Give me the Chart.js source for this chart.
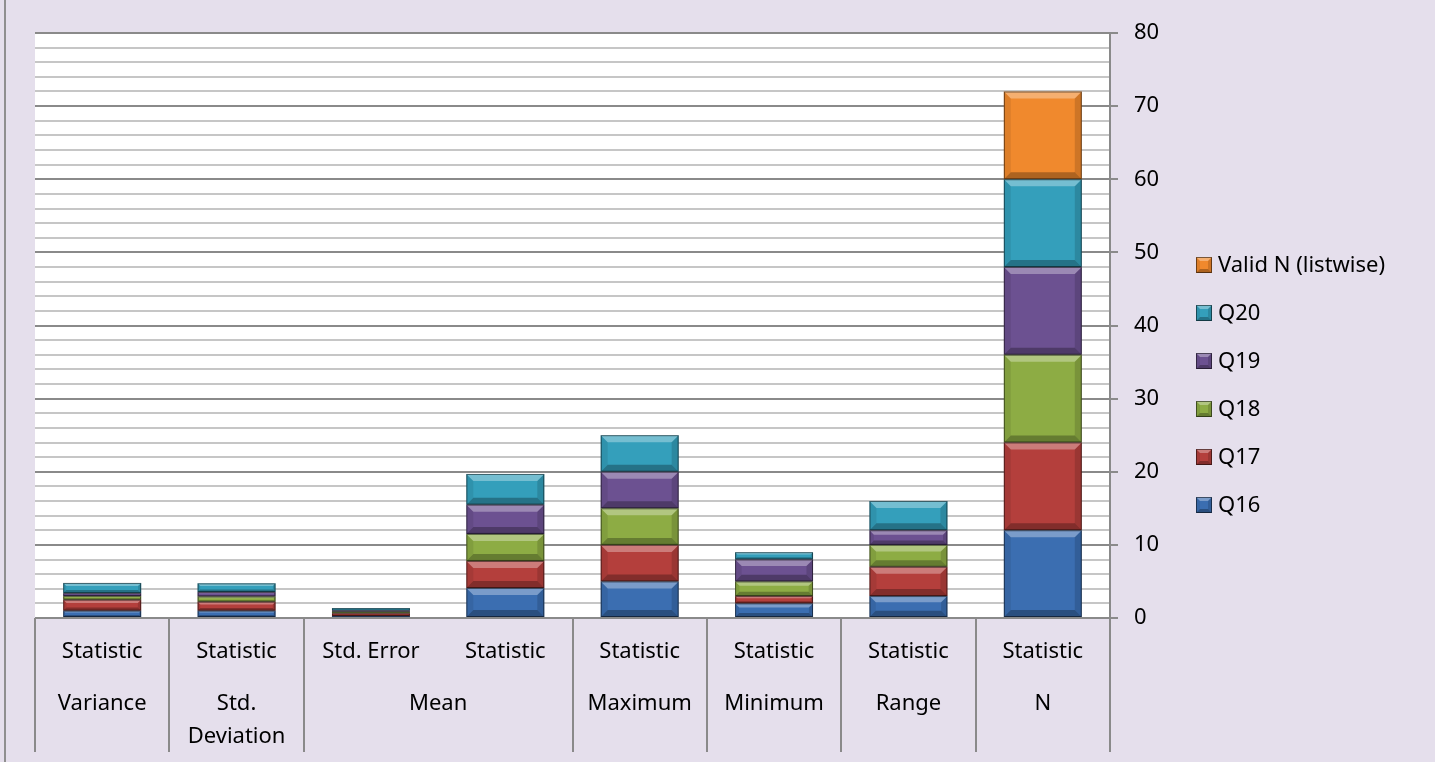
<!DOCTYPE html>
<html>
<head>
<meta charset="utf-8">
<script src="https://cdn.jsdelivr.net/npm/chart.js@4/dist/chart.umd.min.js"></script>
<style>
  html, body { margin: 0; padding: 0; background: #e5dfec; }
  #wrap { width: 1435px; height: 762px; }
</style>
</head>
<body>
<div id="wrap"><canvas id="descChart" width="1435" height="762"></canvas></div>
<script>
'use strict';

// column labels: statistic name (row 1) and measure group (row 2)
var statLabels  = ['Statistic', 'Statistic', 'Std. Error', 'Statistic', 'Statistic', 'Statistic', 'Statistic', 'Statistic'];
var groupLabels = ['Variance', 'Std. Deviation', 'Mean', 'Mean', 'Maximum', 'Minimum', 'Range', 'N'];

var q16    = [1.0, 1.0, 0.29, 4.1, 5, 2, 3, 12];
var q17    = [1.5, 1.22, 0.35, 3.7, 5, 1, 4, 12];
var q18    = [0.5, 0.71, 0.2, 3.7, 5, 2, 3, 12];
var q19    = [0.4, 0.63, 0.18, 4.0, 5, 3, 2, 12];
var q20    = [1.4, 1.18, 0.34, 4.2, 5, 1, 4, 12];
var validN = [null, null, null, null, null, null, null, 12];

var seriesNames  = ['Q16', 'Q17', 'Q18', 'Q19', 'Q20', 'Valid N (listwise)'];
var seriesColors = ['#3b6eb1', '#b43f3c', '#8dac44', '#6c5191', '#349fbb', '#f0892d'];

var FONT = '"Noto Sans", "Open Sans", sans-serif';
var FONT_SIZE = 22;

// bevelled face on a rectangle, like the office "3D" bar style
function bevel(ctx, left, top, right, bottom, maxB) {
    var h = bottom - top, w = right - left;
    if (h <= 0 || w <= 0) return;
    var b = Math.min(maxB, h * 0.3, w * 0.3);
    ctx.save();
    ctx.fillStyle = 'rgba(255,255,255,0.32)';
    ctx.beginPath();
    ctx.moveTo(left, top); ctx.lineTo(right, top);
    ctx.lineTo(right - b, top + b); ctx.lineTo(left + b, top + b);
    ctx.closePath(); ctx.fill();
    ctx.fillStyle = 'rgba(0,0,0,0.28)';
    ctx.beginPath();
    ctx.moveTo(left, bottom); ctx.lineTo(right, bottom);
    ctx.lineTo(right - b, bottom - b); ctx.lineTo(left + b, bottom - b);
    ctx.closePath(); ctx.fill();
    ctx.fillStyle = 'rgba(0,0,0,0.08)';
    ctx.beginPath();
    ctx.moveTo(left, top); ctx.lineTo(left + b, top + b);
    ctx.lineTo(left + b, bottom - b); ctx.lineTo(left, bottom);
    ctx.closePath(); ctx.fill();
    ctx.fillStyle = 'rgba(0,0,0,0.14)';
    ctx.beginPath();
    ctx.moveTo(right, top); ctx.lineTo(right - b, top + b);
    ctx.lineTo(right - b, bottom - b); ctx.lineTo(right, bottom);
    ctx.closePath(); ctx.fill();
    ctx.strokeStyle = 'rgba(0,0,0,0.5)';
    ctx.lineWidth = 1;
    ctx.strokeRect(left + 0.5, top + 0.5, w - 1, h - 1);
    ctx.restore();
}

var backdrop = {
    id: 'backdrop',
    beforeDraw: function (chart) {
        var ctx = chart.ctx, a = chart.chartArea;
        ctx.save();
        ctx.fillStyle = '#e5dfec';
        ctx.fillRect(0, 0, chart.width, chart.height);
        ctx.fillStyle = '#8f8f8f';
        ctx.fillRect(4, 0, 2, chart.height);
        ctx.fillStyle = '#ffffff';
        ctx.fillRect(a.left, a.top, a.right - a.left, a.bottom - a.top);
        ctx.restore();
    }
};

var bevelBars = {
    id: 'bevelBars',
    afterDatasetsDraw: function (chart) {
        var ctx = chart.ctx;
        chart.data.datasets.forEach(function (ds, di) {
            var meta = chart.getDatasetMeta(di);
            meta.data.forEach(function (bar, i) {
                if (ds.data[i] == null) return;
                var p = bar.getProps(['x', 'y', 'base', 'width'], true);
                var top = Math.min(p.y, p.base), bottom = Math.max(p.y, p.base);
                bevel(ctx, p.x - p.width / 2, top, p.x + p.width / 2, bottom, 7);
            });
        });
    }
};

// two-row category axis with group separators, plus the legend on the right
var axisAndLegend = {
    id: 'axisAndLegend',
    afterDraw: function (chart) {
        var ctx = chart.ctx, a = chart.chartArea, xs = chart.scales.x;
        var n = statLabels.length;
        var colW = (a.right - a.left) / n;
        ctx.save();
        ctx.font = FONT_SIZE + 'px ' + FONT;
        ctx.fillStyle = '#000';
        ctx.textAlign = 'center';
        ctx.textBaseline = 'middle';

        statLabels.forEach(function (s, i) {
            ctx.fillText(s, xs.getPixelForValue(i), a.bottom + 34);
        });

        // merge neighbouring equal group names
        var edges = [];
        var start = 0;
        for (var i = 1; i <= n; i++) {
            if (i === n || groupLabels[i] !== groupLabels[start]) {
                var x0 = a.left + start * colW, x1 = a.left + i * colW;
                edges.push(x0);
                var text = groupLabels[start];
                var lines = [text];
                if (ctx.measureText(text).width > (x1 - x0) - 12 && text.indexOf(' ') > 0) {
                    lines = [text.slice(0, text.indexOf(' ')), text.slice(text.indexOf(' ') + 1)];
                }
                lines.forEach(function (ln, k) {
                    ctx.fillText(ln, (x0 + x1) / 2, a.bottom + 86 + k * 33);
                });
                start = i;
            }
        }
        edges.push(a.right);

        ctx.strokeStyle = '#8a8a8a';
        ctx.lineWidth = 2;
        edges.forEach(function (x) {
            ctx.beginPath();
            ctx.moveTo(Math.round(x), a.bottom);
            ctx.lineTo(Math.round(x), a.bottom + 134);
            ctx.stroke();
        });

        // legend, top item is the last series
        ctx.textAlign = 'left';
        var ly = 265;
        for (var j = seriesNames.length - 1; j >= 0; j--) {
            ctx.fillStyle = seriesColors[j];
            ctx.fillRect(1196, ly - 8, 16, 16);
            bevel(ctx, 1196, ly - 8, 1212, ly + 8, 4);
            ctx.fillStyle = '#000';
            ctx.fillText(seriesNames[j], 1218, ly + 1);
            ly += 48;
        }
        ctx.restore();
    }
};

var seriesData = [q16, q17, q18, q19, q20, validN];

new Chart(document.getElementById('descChart'), {
    type: 'bar',
    data: {
        labels: statLabels.map(function (s, i) { return groupLabels[i] + ' ' + s; }),
        datasets: seriesNames.map(function (name, k) {
            return {
                label: name,
                data: seriesData[k],
                backgroundColor: seriesColors[k],
                borderWidth: 0,
                barPercentage: 0.58,
                categoryPercentage: 1.0
            };
        })
    },
    options: {
        responsive: false,
        animation: false,
        layout: { padding: { left: 35, top: 33, right: 240, bottom: 144 } },
        plugins: {
            legend: { display: false },
            tooltip: { enabled: false }
        },
        scales: {
            x: { stacked: true, display: false },
            y: {
                stacked: true,
                position: 'right',
                min: 0,
                max: 80,
                afterFit: function (s) { s.width = 85; },
                border: { display: true, color: '#8a8a8a', width: 2 },
                grid: {
                    lineWidth: 2,
                    tickLength: 8,
                    color: function (c) { return c.tick && c.tick.value % 10 === 0 ? '#8a8a8a' : '#c6c6c6'; },
                    tickColor: function (c) { return c.tick && c.tick.value % 10 === 0 ? '#8a8a8a' : 'rgba(0,0,0,0)'; }
                },
                ticks: {
                    stepSize: 2,
                    autoSkip: false,
                    padding: 16,
                    color: '#000',
                    font: { family: FONT, size: FONT_SIZE },
                    callback: function (v) { return v % 10 === 0 ? v : ''; }
                }
            }
        }
    },
    plugins: [backdrop, bevelBars, axisAndLegend]
});
</script>
</body>
</html>
